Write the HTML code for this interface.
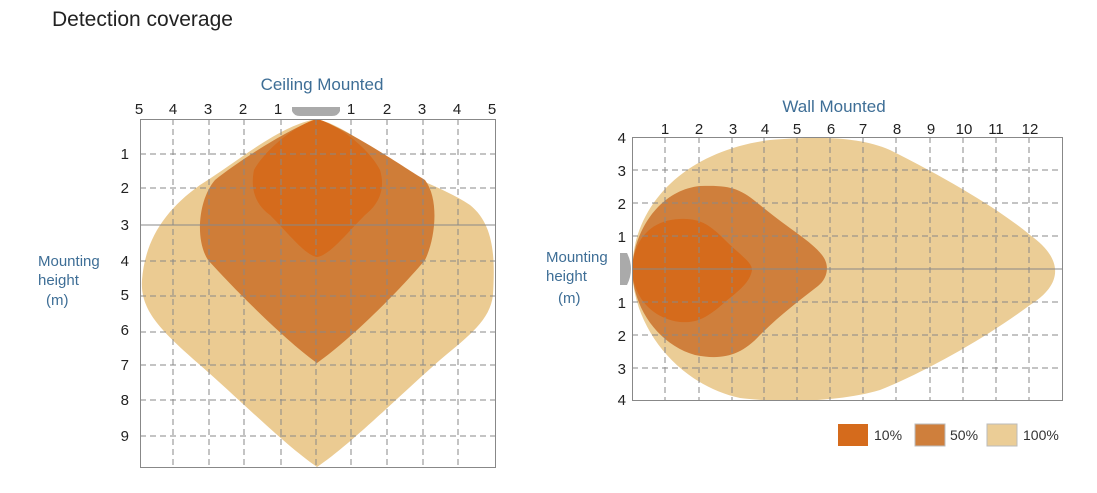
<!DOCTYPE html>
<html><head><meta charset="utf-8"><style>
body{margin:0;background:#fff;}
svg text{font-family:"Liberation Sans",Arial,sans-serif;}
</style></head><body>
<svg width="1097" height="488" viewBox="0 0 1097 488" xmlns="http://www.w3.org/2000/svg">
<rect width="1097" height="488" fill="#fff"/>
<text x="52" y="26" font-size="21" fill="#222">Detection coverage</text>

<!-- Ceiling -->
<text x="322" y="90" font-size="17" fill="#3e6e96" text-anchor="middle">Ceiling Mounted</text>
<g font-size="15" fill="#222" text-anchor="middle">
<text x="139" y="114">5</text><text x="173" y="114">4</text><text x="208" y="114">3</text><text x="243" y="114">2</text><text x="278" y="114">1</text>
<text x="351" y="114">1</text><text x="387" y="114">2</text><text x="422" y="114">3</text><text x="457" y="114">4</text><text x="492" y="114">5</text>
</g>
<g font-size="15" fill="#222" text-anchor="end">
<text x="129" y="159">1</text><text x="129" y="193">2</text><text x="129" y="230">3</text><text x="129" y="266">4</text><text x="129" y="300">5</text><text x="129" y="335">6</text><text x="129" y="370">7</text><text x="129" y="405">8</text><text x="129" y="441">9</text>
</g>
<g font-size="15" fill="#3e6e96">
<text x="38" y="266">Mounting</text><text x="38" y="285">height</text><text x="46" y="305">(m)</text>
</g>
<path d="M317,119 C340,125 360,140 385,158 C410,180 440,185 470,205 C495,225 495,260 493,295 C490,320 470,335 440,360 C400,395 350,445 317,467 C285,445 240,400 200,365 C160,330 140,310 142,280 C145,240 165,210 200,185 C240,160 280,125 317,119 Z" fill="#ebcb92"/>
<path d="M317,119 C350,130 400,165 425,180 C440,200 435,240 425,260 C400,290 350,340 317,363 C285,340 235,290 208,260 C195,240 198,200 215,180 C240,160 290,128 317,119 Z" fill="#cf7d38"/>
<path d="M317,119 C340,125 370,150 380,170 C386,190 378,205 365,215 C345,235 330,255 317,257 C305,255 290,235 270,215 C256,205 250,190 254,170 C265,150 295,125 317,119 Z" fill="#d56b1c"/>
<path d="M292,107 h48 v4 q-2,5 -8,5 h-32 q-6,0 -8,-5 z" fill="#aaa"/>
<g stroke="#888" stroke-width="1" stroke-dasharray="6,4" fill="none">
<path d="M173,119V467M209,119V467M244,119V467M281,119V467M316,119V467M351,119V467M387,119V467M423,119V467M458,119V467"/>
<path d="M140,154H495M140,188H495M140,261H495M140,296H495M140,332H495M140,365H495M140,400H495M140,436H495"/>
</g>
<path d="M140,225H495" stroke="#888" stroke-width="1"/>
<rect x="140.5" y="119.5" width="355" height="348" fill="none" stroke="#888" stroke-width="1"/>

<!-- Wall -->
<text x="834" y="112" font-size="17" fill="#3e6e96" text-anchor="middle">Wall Mounted</text>
<g font-size="15" fill="#222" text-anchor="middle">
<text x="665" y="134">1</text><text x="699" y="134">2</text><text x="733" y="134">3</text><text x="765" y="134">4</text><text x="797" y="134">5</text><text x="831" y="134">6</text><text x="863" y="134">7</text><text x="897" y="134">8</text><text x="931" y="134">9</text><text x="964" y="134">10</text><text x="996" y="134">11</text><text x="1030" y="134">12</text>
</g>
<g font-size="15" fill="#222" text-anchor="end">
<text x="626" y="143">4</text><text x="626" y="176">3</text><text x="626" y="209">2</text><text x="626" y="242">1</text><text x="626" y="308">1</text><text x="626" y="341">2</text><text x="626" y="374">3</text><text x="626" y="405">4</text>
</g>
<g font-size="15" fill="#3e6e96">
<text x="546" y="262">Mounting</text><text x="546" y="281">height</text><text x="558" y="303">(m)</text>
</g>
<path d="M632,269 C634,200 690,150 770,140 C820,136 860,137 890,150 C950,180 1000,210 1030,235 C1065,260 1062,285 1030,305 C990,335 930,370 880,390 C840,402 780,403 740,398 C680,385 633,330 632,269 Z" fill="#ebcd96"/>
<path d="M632,269 C634,230 660,190 700,186 C730,185 740,188 760,205 C790,230 810,240 822,255 C830,265 828,278 818,286 C800,300 780,315 760,335 C740,357 720,360 695,355 C660,345 633,310 632,269 Z" fill="#cf7f3c"/>
<path d="M632,269 C634,240 650,220 680,219 C700,218 710,225 725,240 C740,255 752,262 752,270 C750,282 740,290 725,302 C705,320 695,323 680,322 C650,318 633,295 632,269 Z" fill="#d56b1c"/>
<path d="M620,253 h7 q4,8 4,16 q0,8 -4,16 h-7 z" fill="#aaa"/>
<g stroke="#888" stroke-width="1" stroke-dasharray="6,4" fill="none">
<path d="M665,137V400M699,137V400M732,137V400M764,137V400M797,137V400M830,137V400M863,137V400M896,137V400M930,137V400M963,137V400M996,137V400M1029,137V400"/>
<path d="M632,170H1062M632,203H1062M632,236H1062M632,302H1062M632,335H1062M632,368H1062"/>
</g>
<path d="M632,269H1062" stroke="#888" stroke-width="1"/>
<rect x="632.5" y="137.5" width="430" height="263" fill="none" stroke="#888" stroke-width="1"/>

<!-- Legend -->
<rect x="838" y="424" width="30" height="22" fill="#d56b1c"/>
<text x="874" y="440" font-size="14" fill="#333">10%</text>
<rect x="915" y="424" width="30" height="22" fill="#cf7f3c" stroke="#bbb"/>
<text x="950" y="440" font-size="14" fill="#333">50%</text>
<rect x="987" y="424" width="30" height="22" fill="#ebcd96" stroke="#bbb"/>
<text x="1023" y="440" font-size="14" fill="#333">100%</text>
</svg>
</body></html>
